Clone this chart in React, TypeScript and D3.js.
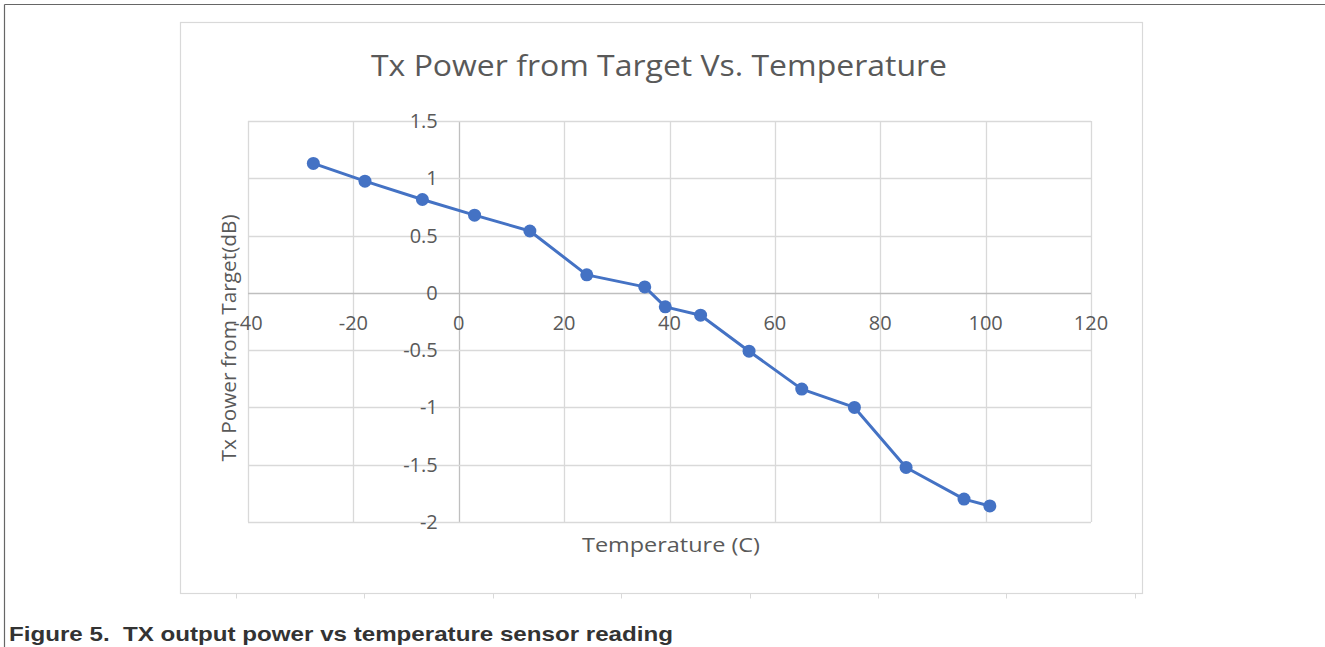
// @ts-nocheck
import * as d3 from "d3"
import { useEffect, useRef } from "react"
import * as React from "react"

const temperature = [-27.6, -17.8, -6.9, 3.0, 13.5, 24.3, 35.3, 39.2, 45.9, 55.1, 65.1, 75.1, 84.9, 95.9, 100.8]
const txPower = [1.13, 0.975, 0.815, 0.678, 0.54, 0.157, 0.052, -0.122, -0.195, -0.509, -0.84, -1.0, -1.524, -1.8, -1.86]

const xTicks = [-40, -20, 0, 20, 40, 60, 80, 100, 120]
const yTicks = [1.5, 1, 0.5, 0, -0.5, -1, -1.5, -2]

const chartTitle = "Tx Power from Target Vs. Temperature"
const xTitle = "Temperature (C)"
const yTitle = "Tx Power from Target(dB)"
const caption = "Figure 5.  TX output power vs temperature sensor reading"

const W = 1325
const H = 647
const font = "'Open Sans', sans-serif"
const textColor = "#595959"
const gridColor = "#d9d9d9"
const lineColor = "#4472c4"

function buildSVG() {
  const svg = d3.create("svg")
    .attr("width", W)
    .attr("height", H)
    .style("display", "block")
    .style("position", "absolute")
    .style("left", 0)
    .style("top", 0)
    .style("background", "#fff")

  // page frame (top + left rule)
  svg.append("line").attr("x1", 4.5).attr("x2", W).attr("y1", 4.5).attr("y2", 4.5)
    .attr("stroke", "#666").attr("stroke-width", 1.2)
  svg.append("line").attr("x1", 4.5).attr("x2", 4.5).attr("y1", 4.5).attr("y2", H)
    .attr("stroke", "#666").attr("stroke-width", 1.2)

  // chart area box
  const box = { x: 180.5, y: 22.5, w: 962, h: 571 }
  svg.append("rect")
    .attr("x", box.x).attr("y", box.y).attr("width", box.w).attr("height", box.h)
    .attr("fill", "#fff").attr("stroke", gridColor).attr("stroke-width", 1.2)

  // small ruler marks under the box
  const marks = d3.range(8).map(i => 236 + i * 128.4)
  svg.append("g").selectAll("line").data(marks).join("line")
    .attr("x1", d => Math.round(d) + 0.5).attr("x2", d => Math.round(d) + 0.5)
    .attr("y1", box.y + box.h).attr("y2", box.y + box.h + 5)
    .attr("stroke", gridColor)

  const plot = { left: 248, right: 1091, top: 121, bottom: 522 }
  const x = d3.scaleLinear().domain([-40, 120]).range([plot.left, plot.right])
  const y = d3.scaleLinear().domain([-2, 1.5]).range([plot.bottom, plot.top])

  const grid = svg.append("g")
  grid.selectAll("line.v").data(xTicks).join("line")
    .attr("class", "v")
    .attr("x1", d => Math.round(x(d)) + 0.5).attr("x2", d => Math.round(x(d)) + 0.5)
    .attr("y1", plot.top).attr("y2", plot.bottom)
    .attr("stroke", d => d === 0 ? "#bfbfbf" : gridColor).attr("stroke-width", 1.3)
  grid.selectAll("line.h").data(yTicks).join("line")
    .attr("class", "h")
    .attr("y1", d => Math.round(y(d)) + 0.5).attr("y2", d => Math.round(y(d)) + 0.5)
    .attr("x1", plot.left).attr("x2", plot.right)
    .attr("stroke", d => d === 0 ? "#bfbfbf" : gridColor).attr("stroke-width", 1.3)

  // y tick labels, beside the x=0 axis
  svg.append("g").selectAll("text").data(yTicks).join("text")
    .attr("x", x(0) - 21)
    .attr("y", d => y(d))
    .attr("dy", "0.35em")
    .attr("text-anchor", "end")
    .attr("font-family", font).attr("font-size", 20).attr("fill", textColor)
    .text(d => String(d))

  // x tick labels, below the y=0 axis
  svg.append("g").selectAll("text").data(xTicks).join("text")
    .attr("x", d => x(d))
    .attr("y", y(0) + 30)
    .attr("dy", "0.35em")
    .attr("text-anchor", "middle")
    .attr("font-family", font).attr("font-size", 20).attr("fill", textColor)
    .text(d => String(d))

  const pts = temperature.map((t, i) => [t, txPower[i]])
  const line = d3.line().x(d => x(d[0])).y(d => y(d[1]))
  svg.append("path")
    .attr("d", line(pts))
    .attr("fill", "none").attr("stroke", lineColor).attr("stroke-width", 3)
    .attr("stroke-linejoin", "round")
  svg.append("g").selectAll("circle").data(pts).join("circle")
    .attr("cx", d => x(d[0])).attr("cy", d => y(d[1]))
    .attr("r", 6.5).attr("fill", lineColor)

  svg.append("text")
    .attr("x", 659).attr("y", 76)
    .attr("text-anchor", "middle")
    .attr("font-family", font).attr("font-size", 30).attr("fill", textColor)
    .attr("textLength", 576).attr("lengthAdjust", "spacingAndGlyphs")
    .text(chartTitle)

  svg.append("text")
    .attr("x", 671).attr("y", 552)
    .attr("text-anchor", "middle")
    .attr("font-family", font).attr("font-size", 20.5).attr("fill", textColor)
    .attr("textLength", 178).attr("lengthAdjust", "spacingAndGlyphs")
    .text(xTitle)

  svg.append("text")
    .attr("transform", "translate(236,338) rotate(-90)")
    .attr("text-anchor", "middle")
    .attr("font-family", font).attr("font-size", 20.5).attr("fill", textColor)
    .attr("textLength", 247).attr("lengthAdjust", "spacingAndGlyphs")
    .text(yTitle)

  svg.append("text")
    .attr("x", 9).attr("y", 641)
    .attr("xml:space", "preserve")
    .style("white-space", "pre")
    .attr("font-family", "'Liberation Sans', Arial, sans-serif")
    .attr("font-weight", "bold").attr("font-size", 20.5).attr("fill", "#333")
    .attr("textLength", 664).attr("lengthAdjust", "spacingAndGlyphs")
    .text(caption)

  return svg
}

export default function App() {
  const ref = useRef<HTMLDivElement>(null)
  useEffect(() => {
    const svg = buildSVG()
    const el = ref.current
    while (el.hasChildNodes()) el.removeChild(el.lastChild)
    el.append(svg.node())
  }, [])
  return <div ref={ref} />
}
